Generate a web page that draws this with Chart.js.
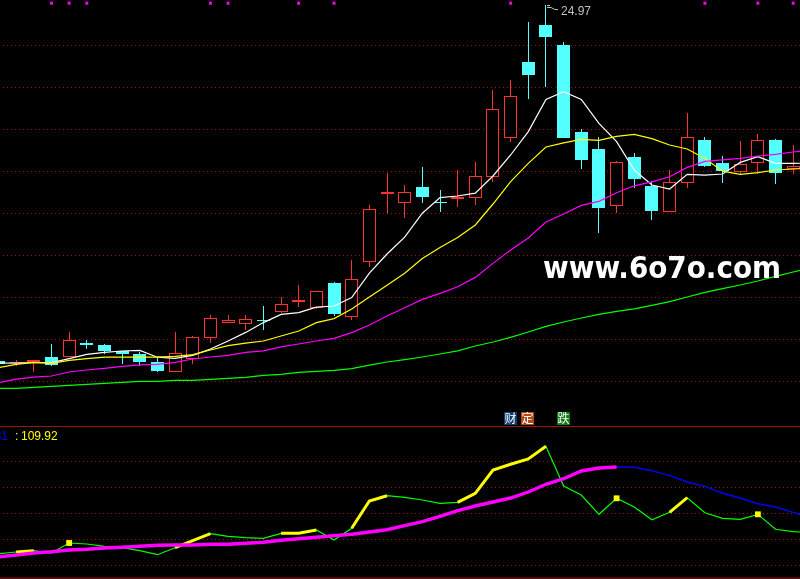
<!DOCTYPE html>
<html>
<head>
<meta charset="utf-8">
<script src="https://cdn.jsdelivr.net/npm/chart.js@4"></script>
<style>
  html, body { margin: 0; padding: 0; background: #000; }
  canvas { display: block; }
</style>
</head>
<body>
<canvas id="klineChart" width="800" height="579"></canvas>
<script>
// candles
const opens = [7.17,7.07,7.12,7.36,7.37,8.07,7.97,7.66,7.52,7.12,6.62,7.27,8.34,9.09,9.04,9.22,9.64,10.12,9.83,11.07,9.35,12.13,15.52,15.09,15.87,15.12,15.27,15.34,16.39,18.34,22.12,23.97,22.97,18.62,17.77,14.94,17.37,15.92,14.63,16.09,18.22,17.07,16.63,17.09,18.22,16.75];
const closes = [7.02,7.12,7.22,6.97,8.22,7.97,7.67,7.52,7.12,6.67,7.57,8.35,9.32,9.22,9.25,9.17,10.00,10.22,10.65,9.52,11.25,14.75,15.62,15.60,15.37,15.07,15.37,16.41,19.75,20.40,21.47,23.37,18.32,17.22,14.82,17.11,16.27,14.67,16.11,18.35,16.92,16.67,17.00,18.21,16.57,16.90];
const highs = [7.17,7.22,7.22,8.02,8.62,8.22,8.02,7.67,7.62,7.32,8.62,8.42,9.47,9.47,9.47,9.92,10.37,10.97,10.67,11.12,12.22,14.97,16.57,15.97,16.87,15.72,16.72,17.12,20.72,21.22,24.12,24.97,23.12,18.77,18.37,17.17,17.57,16.17,16.72,19.57,18.37,17.42,18.17,18.52,18.27,17.97];
const lows = [7.02,6.92,6.62,6.92,7.37,7.77,7.52,7.02,6.92,6.62,6.62,7.02,8.07,9.07,8.72,8.72,9.57,9.87,9.77,9.42,9.22,11.87,14.52,14.32,15.07,14.62,14.87,14.97,16.12,18.12,20.27,20.87,18.32,16.77,13.57,14.57,15.82,14.22,14.62,15.82,16.87,16.07,16.47,16.52,16.02,16.52];

// moving averages
const ma5 = [7.07,7.06,7.09,7.09,7.29,7.50,7.60,7.67,7.70,7.36,7.30,7.45,7.77,8.17,8.60,9.09,9.50,9.59,9.86,9.92,10.34,11.56,12.52,13.36,14.56,15.34,15.42,15.56,16.42,17.47,18.64,20.25,20.64,20.25,19.05,18.14,16.72,15.97,15.77,16.50,16.46,16.52,17.10,17.39,17.05,17.05,17.07];
const ma10 = [6.84,7.00,7.10,7.05,7.20,7.29,7.36,7.36,7.36,7.36,7.40,7.49,7.72,7.94,8.06,8.17,8.42,8.67,9.09,9.29,9.77,10.37,10.96,11.56,12.29,12.84,13.34,13.97,15.02,16.14,17.05,17.87,18.08,18.25,18.20,18.40,18.50,18.29,17.97,17.77,17.30,16.66,16.50,16.59,16.72,16.77,16.80];
const ma20 = [6.09,6.26,6.36,6.42,6.62,6.72,6.80,6.90,6.98,7.00,7.10,7.27,7.37,7.45,7.60,7.68,7.88,8.02,8.17,8.30,8.59,8.97,9.42,9.83,10.25,10.55,10.88,11.35,12.05,12.72,13.32,14.12,14.52,14.95,15.15,15.58,15.93,16.13,16.38,16.85,17.15,17.23,17.30,17.42,17.50,17.62,17.70];
const ma60 = [5.80,5.80,5.85,5.90,5.95,6.00,6.05,6.10,6.15,6.15,6.20,6.20,6.25,6.30,6.35,6.45,6.50,6.60,6.65,6.70,6.79,6.96,7.12,7.24,7.37,7.52,7.68,7.92,8.12,8.35,8.62,8.90,9.12,9.32,9.50,9.65,9.78,9.95,10.14,10.37,10.60,10.79,10.97,11.17,11.40,11.62,11.82];

// lower indicator
const fast = [88.22,89.92,91.22,88.92,98.92,97.92,95.62,94.22,91.22,87.22,94.22,101.22,108.22,105.62,104.22,103.62,108.62,108.62,111.92,101.92,113.62,140.92,146.22,144.62,141.92,138.62,139.62,148.62,171.92,177.62,182.92,195.62,155.92,146.92,127.62,143.62,134.92,122.22,129.62,144.22,129.22,123.62,122.62,127.62,112.62,110.22,109.42];
const slow = [84.92,86.92,88.92,90.22,91.92,92.62,93.92,94.62,95.62,96.62,96.92,96.92,97.62,97.62,98.62,99.62,101.62,103.22,104.62,106.22,107.62,109.92,112.22,116.22,120.22,125.62,131.22,135.92,139.92,143.92,149.92,157.62,163.22,170.92,173.92,174.92,174.62,171.22,166.22,159.92,155.62,148.62,143.92,138.22,134.92,129.62,123.92];
// days where the fast line is drawn thick yellow
const fastUpDays = [1,2,4,10,11,12,16,17,18,20,21,22,26,27,28,29,30,31,35,38,39,43];
// last day the slow line is still thick magenta
const slowTurnDay = 35;

// little squares along the top
const topMarkDays = [3,4,5,12,13,17,19,29,40,43,45];
const topMarkLevel = 25.06;

// horizontal dotted lines
const priceGrid = [22.95,20.85,18.75,16.65,14.55,12.45,10.35,8.25,6.15];
const fastGrid = [180.62,154.62,128.62,102.62,76.62];
const panelRules = [215.5,63.9];

const peakPrice = '24.97';
const peakDay = 31;
const lastFast = '109.92';
const fastName = '31';

const days = ma5.map((v, i) => i);
const toPoints = (values) => values.map((v, i) => ({x: days[i], y: v}));

const RED = '#ff3232';
const CYAN = '#54ffff';
const GRID_RED = '#8c1414';

const candleColor = (i) => (closes[i] >= opens[i] ? RED : CYAN);

function lineSet(values, color, width, order, yAxisID) {
    return {
        type: 'line',
        data: toPoints(values),
        yAxisID: yAxisID,
        borderColor: color,
        backgroundColor: color,
        borderWidth: width,
        pointRadius: 0,
        tension: 0,
        spanGaps: false,
        order: order,
    };
}

const fastUp = fast.map((v, i) => (fastUpDays.includes(i) ? v : null));
const slowThick = slow.map((v, i) => (i <= slowTurnDay ? v : null));
const slowThin = slow.map((v, i) => (i >= slowTurnDay ? v : null));

const fastUpSet = lineSet(fastUp, '#ffff00', 3, 8, 'y2');
fastUpSet.pointStyle = 'rect';
// a single up day has no segment to draw, so it gets a dot
fastUpSet.pointRadius = (ctx) => {
    const i = ctx.dataIndex;
    return fastUp[i] !== null && fastUp[i - 1] == null && fastUp[i + 1] == null ? 2 : 0;
};

const candleDays = days.slice(0, opens.length);

const ruleSet = (level) => {
    const set = lineSet([], '#aa1414', 1, 3, 'y2');
    set.data = [{x: -1, y: level}, {x: 47, y: level}];
    return set;
};

const datasets = [
    {
        type: 'bar',
        data: candleDays.map((d) => ({x: d, y: [lows[d], highs[d]]})),
        backgroundColor: candleDays.map(candleColor),
        barThickness: 1,
        inflateAmount: 0,
        grouped: false,
        order: 50,
    },
    {
        type: 'bar',
        data: candleDays.map((d) => ({x: d, y: [opens[d], closes[d]]})),
        backgroundColor: candleDays.map((d) => (closes[d] >= opens[d] ? '#000' : CYAN)),
        borderColor: candleDays.map(candleColor),
        borderWidth: 1,
        borderSkipped: false,
        barThickness: 13,
        inflateAmount: 0,
        grouped: false,
        order: 40,
    },
    lineSet(ma5, '#ffffff', 1.2, 33, 'y'),
    lineSet(ma10, '#ffff00', 1.2, 32, 'y'),
    lineSet(ma20, '#ff00ff', 1.2, 31, 'y'),
    lineSet(ma60, '#00ff00', 1.2, 30, 'y'),
    {
        type: 'line',
        data: topMarkDays.map((d) => ({x: d, y: topMarkLevel})),
        yAxisID: 'y',
        showLine: false,
        pointStyle: 'rect',
        pointRadius: 2.1,
        backgroundColor: '#ff00ff',
        borderWidth: 0,
        order: 20,
    },
    lineSet(fast, '#00ff00', 1.2, 10, 'y2'),
    fastUpSet,
    lineSet(slowThin, '#0000ff', 1.4, 7, 'y2'),
    lineSet(slowThick, '#ff00ff', 3.4, 6, 'y2'),
    ruleSet(panelRules[0]),
    ruleSet(panelRules[1]),
];

// keep the candles on whole pixels so they stay sharp like the original
const snapBars = {
    id: 'snapBars',
    afterDatasetsUpdate(chart) {
        chart.getSortedVisibleDatasetMetas().forEach((meta) => {
            if (meta.type !== 'bar') return;
            meta.data.forEach((bar) => {
                bar.x = Math.floor(bar.x) + 0.5;
                bar.y = Math.round(bar.y);
                bar.base = Math.round(bar.base);
                bar.height = bar.base - bar.y;
            });
        });
    },
};

const overlayText = {
    id: 'overlayText',
    afterDatasetsDraw(chart) {
        const ctx = chart.ctx;
        const px = chart.scales.x.getPixelForValue(peakDay);
        const py = chart.scales.y.getPixelForValue(highs[peakDay]);
        ctx.save();

        // peak flag and price
        ctx.strokeStyle = '#c0c0c0';
        ctx.lineWidth = 1;
        ctx.beginPath();
        ctx.moveTo(px + 1, py + 0.5);
        ctx.lineTo(px + 4, py + 0.5);
        ctx.moveTo(px + 1, py + 2.5);
        ctx.lineTo(px + 5, py + 2.5);
        ctx.lineTo(px + 9, py + 4.5);
        ctx.lineTo(px + 12, py + 4.5);
        ctx.stroke();
        ctx.fillStyle = '#c0c0c0';
        ctx.font = '12px "Liberation Sans"';
        ctx.textBaseline = 'alphabetic';
        ctx.fillText(peakPrice, px + 15, py + 10);

        // indicator title, the name is cut by the left edge
        ctx.textAlign = 'right';
        ctx.fillStyle = '#0000ff';
        ctx.fillText(fastName, 8, 440);
        ctx.textAlign = 'left';
        ctx.fillStyle = '#ffff00';
        ctx.fillText(':', 15, 440);
        ctx.fillText(lastFast, 21, 440);

        // small tags above the indicator panel
        const tags = [
            {text: '财', x: 504, color: '#0f3c6e'},
            {text: '定', x: 521, color: '#b04a14'},
            {text: '跌', x: 557, color: '#0f7a14'},
        ];
        ctx.font = '12px "Noto Sans CJK SC"';
        ctx.textAlign = 'center';
        ctx.textBaseline = 'middle';
        tags.forEach((tag) => {
            ctx.fillStyle = tag.color;
            ctx.fillRect(tag.x, 412, 13, 13);
            ctx.fillStyle = '#ffffff';
            ctx.fillText(tag.text, tag.x + 6.5, 418.5);
        });

        // watermark
        ctx.fillStyle = '#ffffff';
        ctx.font = 'bold 30px "DejaVu Sans"';
        ctx.textAlign = 'left';
        ctx.textBaseline = 'alphabetic';
        ctx.fillText('www.6o7o.com', 543, 278, 238);
        ctx.restore();
    },
};

const gridOptions = {
    color: GRID_RED,
    lineWidth: 1,
    drawTicks: false,
};

const klineChart = new Chart(document.getElementById('klineChart').getContext('2d'), {
    type: 'bar',
    data: {datasets: datasets},
    options: {
        responsive: false,
        animation: false,
        devicePixelRatio: 1,
        events: [],
        layout: {padding: 0, autoPadding: false},
        plugins: {legend: {display: false}, tooltip: {enabled: false}},
        scales: {
            x: {
                type: 'linear',
                display: false,
                offset: false,
                min: 0.085,
                max: 45.385,
            },
            y: {
                type: 'linear',
                position: 'left',
                stack: 'panels',
                stackWeight: 426,
                weight: 2,
                min: 3.92,
                max: 25.22,
                afterBuildTicks: (scale) => {
                    scale.ticks = priceGrid.map((v) => ({value: v}));
                },
                ticks: {display: false, autoSkip: false},
                grid: gridOptions,
                border: {display: false, dash: [1, 3], dashOffset: 1},
            },
            y2: {
                type: 'linear',
                position: 'left',
                stack: 'panels',
                stackWeight: 153,
                weight: 1,
                min: 62.92,
                max: 215.92,
                afterBuildTicks: (scale) => {
                    scale.ticks = fastGrid.map((v) => ({value: v}));
                },
                ticks: {display: false, autoSkip: false},
                grid: gridOptions,
                border: {display: false, dash: [1, 3], dashOffset: 1},
            },
        },
    },
    plugins: [snapBars, overlayText],
});
</script>
</body>
</html>
